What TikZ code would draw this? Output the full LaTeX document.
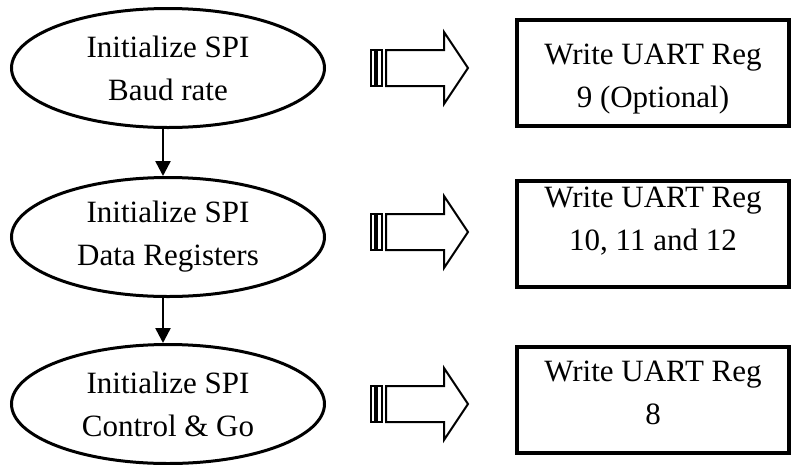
\documentclass[tikz,border=0pt]{standalone}
\usepackage{fontspec}
\setmainfont{Liberation Serif}
\usetikzlibrary{shapes.geometric,arrows.meta}
\tikzset{
  stage/.style={ellipse,draw,line width=3pt,minimum width=313pt,minimum height=119pt,
    inner sep=0pt,align=center,font=\fontsize{31}{43}\selectfont},
  regbox/.style={rectangle,draw,line width=3.2pt,minimum width=272pt,minimum height=106pt,
    inner sep=0pt},
  regtext/.style={align=center,inner sep=0pt,font=\fontsize{31}{43}\selectfont},
  flow/.style={line width=2.5pt,-{Triangle[length=15pt,width=15pt]}},
  pics/hollowarrow/.style={code={
    \draw[line width=2pt,line join=miter]
      (-58,-18) -- (0,-18) -- (0,-36) -- (24,0) -- (0,36) -- (0,18) -- (-58,18) -- cycle;
    \draw[line width=2pt] (-73,-18) rectangle (-69,18);
    \draw[line width=2pt] (-67,-18) rectangle (-62,18);
  }}
}
\begin{document}
\begin{tikzpicture}[x=1pt,y=-1pt]
\useasboundingbox (0,0) rectangle (792,464);

% left column: the three SPI set-up stages
\node[stage] (s1) at (168,68)  {Initialize SPI\\Baud rate};
\node[stage] (s2) at (168,237) {Initialize SPI\\Data Registers};
\node[stage] (s3) at (168,404) {Initialize SPI\\Control \& Go};

% right column: the matching UART register writes
\node[regbox] (r1) at (653,73)  {};
\node[regbox] (r2) at (653,234) {};
\node[regbox] (r3) at (653,400) {};
\node[regtext] (t1) at (653,79)  {Write UART Reg\\9 (Optional)};
\node[regtext] (t2) at (653,221) {Write UART Reg\\10, 11 and 12};
\node[regtext] (t3) at (653,393) {Write UART Reg\\8};

\draw[flow] (s1.south -| 163,0) -- (s2.north -| 163,0);
\draw[flow] (s2.south -| 163,0) -- (s3.north -| 163,0);

\pic at (444,68)  {hollowarrow};
\pic at (444,232) {hollowarrow};
\pic at (444,404) {hollowarrow};
\end{tikzpicture}
\end{document}
